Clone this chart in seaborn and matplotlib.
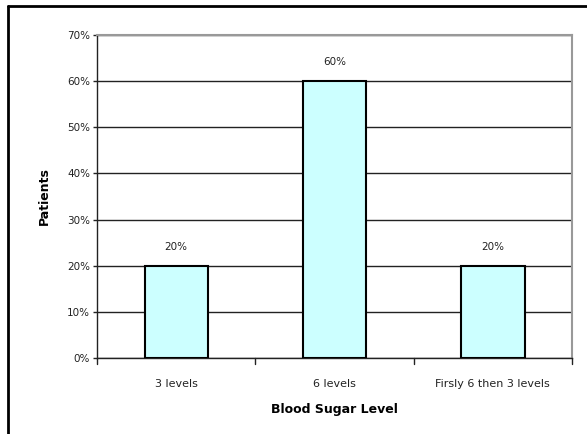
import matplotlib
matplotlib.use("Agg")
import matplotlib.pyplot as plt
from matplotlib.lines import Line2D
from matplotlib.ticker import FuncFormatter, MultipleLocator
import seaborn as sns
import pandas as pd

categories = ["3 levels", "6 levels", "Firsly 6 then 3 levels"]
shares = [20, 60, 20]
bar_labels = ["20%", "60%", "20%"]

sns.set_theme(style="white")
plt.rcParams["font.family"] = ["DejaVu Sans"]

df = pd.DataFrame({"level": categories, "share": shares})

W, H = 587, 434
fig = plt.figure(figsize=(W / 100, H / 100), dpi=100)
ax = fig.add_axes([97 / W, 1 - 358 / H, (572 - 97) / W, (358 - 35) / H])

sns.barplot(data=df, x="level", y="share", ax=ax, color="#CCFFFF",
            saturation=1, width=0.4, edgecolor="black", linewidth=1.5, zorder=3)

ax.set_ylim(0, 70)
ax.set_xlim(-0.5, 2.5)
ax.yaxis.set_major_locator(MultipleLocator(10))
ax.yaxis.set_major_formatter(FuncFormatter(lambda v, p: f"{int(round(v))}%"))
ax.grid(axis="y", color="#222222", linewidth=1, zorder=0)
ax.set_axisbelow(True)

for i, (v, lab) in enumerate(zip(shares, bar_labels)):
    ax.text(i, v + 3, lab, ha="center", va="bottom", fontsize=7.5, color="#222222")

for side in ["top", "right"]:
    ax.spines[side].set_color("#999999")
    ax.spines[side].set_linewidth(1.5)
for side in ["left", "bottom"]:
    ax.spines[side].set_color("#222222")
    ax.spines[side].set_linewidth(1)

ax.tick_params(axis="y", which="both", left=True, length=3, width=1, color="#222222",
               labelsize=7.5, pad=2, labelcolor="#222222")
ax.set_xticks([0, 1, 2])
ax.set_xticklabels(categories)
ax.tick_params(axis="x", bottom=False, labelsize=8, pad=9, labelcolor="#222222")
for xb in [-0.5, 0.5, 1.5, 2.5]:
    ax.plot([xb, xb], [0, -1.2], color="#222222", lw=1, clip_on=False, zorder=4)

ax.set_xlabel("Blood Sugar Level", fontsize=9, fontweight="bold", labelpad=10, color="black")
ax.set_ylabel("Patients", fontsize=9, fontweight="bold", labelpad=12, color="black")

# outer chart frame
fig.add_artist(Line2D([8 / W, 8 / W], [0, 1 - 6 / H], transform=fig.transFigure,
                      color="black", lw=2))
fig.add_artist(Line2D([8 / W, 1], [1 - 6 / H, 1 - 6 / H], transform=fig.transFigure,
                      color="black", lw=2))

fig.savefig("out.png", dpi=100, facecolor="white")
